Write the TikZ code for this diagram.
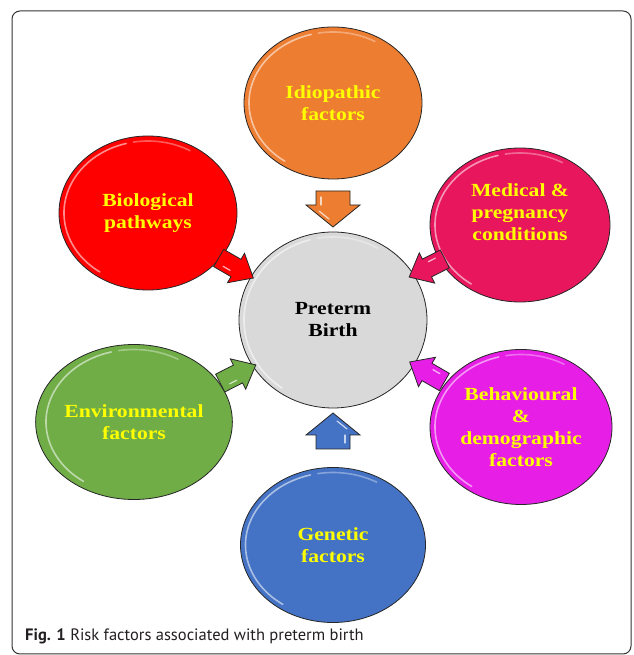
\documentclass[tikz,border=0pt]{standalone}
\usepackage{fontspec}
\setmainfont{Liberation Serif}
\newfontfamily\lblfont[FakeStretch=1.17]{Liberation Serif}
\newfontfamily\capfont{PT Sans}
\usetikzlibrary{shapes.geometric,calc}
\definecolor{cOrange}{HTML}{ED7D31}
\definecolor{cRed}{HTML}{FF0000}
\definecolor{cPink}{HTML}{E8175D}
\definecolor{cGreen}{HTML}{70AD47}
\definecolor{cMagenta}{HTML}{E61EE6}
\definecolor{cBlue}{HTML}{4472C4}
\definecolor{cGray}{HTML}{D9D9D9}
\definecolor{lblYellow}{HTML}{FFFF00}
\definecolor{capText}{HTML}{231F20}
\tikzset{
  blob/.style={ellipse, draw=black!85, line width=0.8pt, inner sep=0pt, align=center,
    font=\lblfont\fontsize{18.5}{22}\selectfont\bfseries, text=lblYellow},
  lbl/.style={align=center, inner sep=0pt, font=\lblfont\fontsize{18.5}{22}\selectfont\bfseries, text=lblYellow},
  hilite/.style={white, opacity=0.55, line width=1.6pt, line cap=round},
  bigarr/.pic={
    \draw[pic actions] (-18,-17) -- (-4,-17) -- (-4,-27) -- (18,0) -- (-4,27) -- (-4,17) -- (-18,17) -- cycle;
    \draw[white, opacity=0.7, line width=1.2pt, line cap=round] (-12,-12) -- (-4,-12);
    \draw[white, opacity=0.7, line width=1.2pt, line cap=round] (2,-14) -- (10,-4);
  },
  smallarr/.pic={
    \draw[pic actions] (-20,-10) -- (0,-10) -- (0,-17) -- (20,0) -- (0,17) -- (0,10) -- (-20,10) -- cycle;
    \draw[white, opacity=0.7, line width=1.2pt, line cap=round] (-12,-5) -- (-4,-5);
  },
  arrline/.style={draw=black!85, line width=0.8pt, line join=miter}
}
\newcommand\glossy[3]{%
  \draw[hilite] (#1.center) ++(105:{#2-5} and {#3-5}) arc[start angle=105, end angle=235, x radius=#2-5, y radius=#3-5];
  \draw[hilite, opacity=0.35] (#1.center) ++(60:{#2-5} and {#3-5}) arc[start angle=60, end angle=100, x radius=#2-5, y radius=#3-5];
}
\begin{document}
\begin{tikzpicture}[x=1pt,y=1pt]
\useasboundingbox (0,0) rectangle (633,655);
\fill[white] (0,0) rectangle (633,655);
% frame
\draw[black!80, line width=1pt, rounded corners=8] (12,1) rectangle (631,644);

% ellipses
\node[blob, fill=cGray, text=black, minimum width=188, minimum height=176] (pb) at (333,335) {Preterm\\Birth};
\node[blob, fill=cOrange, minimum width=178, minimum height=152] (idio) at (333,552) {Idiopathic\\factors};
\node[blob, fill=cRed, minimum width=178, minimum height=154] (bio) at (148,442) {Biological\\pathways};
\node[blob, fill=cPink, minimum width=180, minimum height=154] (med) at (520,430) {};
\node[lbl] (medtxt) at (520,443) {Medical \&\\pregnancy\\conditions};
\node[blob, fill=cGreen, minimum width=186, minimum height=155] (env) at (134,233) {Environmental\\factors};
\node[blob, fill=cMagenta, minimum width=182, minimum height=155] (beh) at (521,228) {Behavioural\\\&\\demographic\\factors};
\node[blob, fill=cBlue, minimum width=185, minimum height=155] (gen) at (333,110) {Genetic\\factors};

\glossy{pb}{94}{88}
\glossy{idio}{89}{76}
\glossy{bio}{89}{77}
\glossy{med}{90}{77}
\glossy{env}{93}{77.5}
\glossy{beh}{91}{77.5}
\glossy{gen}{92.5}{77.5}

% block arrows
\pic[rotate=-90, fill=cOrange, arrline] at (333,446) {bigarr};
\pic[rotate=90, fill=cBlue, arrline] at (333,224) {bigarr};
\pic[rotate=-30, fill=cRed, arrline] at (236,387) {smallarr};
\pic[rotate=-153, fill=cPink, arrline] at (427,387) {smallarr};
\pic[rotate=27, fill=cGreen, arrline] at (238,281) {smallarr};
\pic[rotate=150, fill=cMagenta, arrline] at (427,283) {smallarr};

% caption
\node[anchor=base west, inner sep=0, text=capText, font=\capfont\fontsize{16.5}{20}\selectfont] (cap) at (25,14) {\textbf{Fig. 1} Risk factors associated with preterm birth};
\end{tikzpicture}
\end{document}
